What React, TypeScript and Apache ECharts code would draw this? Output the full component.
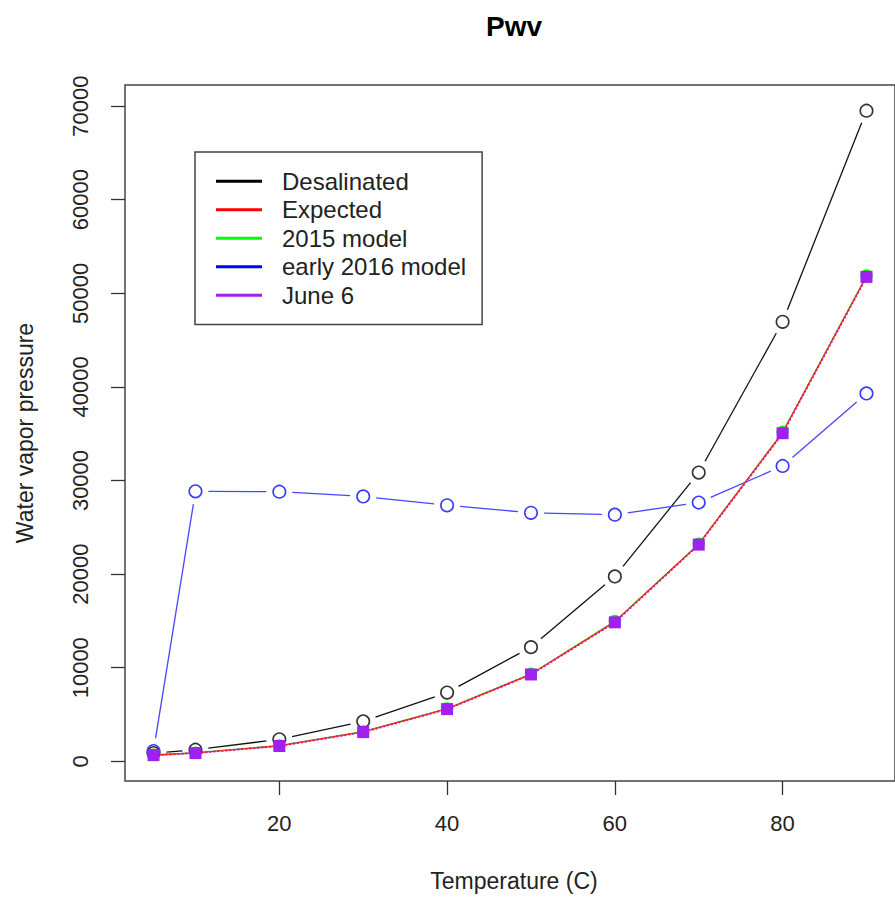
import React, { useEffect, useRef } from "react";
import * as echarts from "echarts";

const temps = [5, 10, 20, 30, 40, 50, 60, 70, 80, 90];
const desalinated = [880, 1240, 2350, 4270, 7350, 12200, 19750, 30850, 46950, 69500];
const expected = [650, 900, 1650, 3150, 5600, 9300, 14900, 23200, 35100, 51800];
const model2015 = [700, 920, 1700, 3200, 5650, 9350, 15000, 23250, 35200, 51900];
const early2016 = [1100, 28850, 28800, 28300, 27350, 26550, 26350, 27650, 31550, 39300];
const june6 = [660, 880, 1640, 3120, 5580, 9280, 14850, 23150, 35050, 51750];

const xTicks = [20, 40, 60, 80];
const yTicks = [0, 10000, 20000, 30000, 40000, 50000, 60000, 70000];

const FONT = "'Liberation Sans', Arial, Helvetica, sans-serif";

function pairs(vals: number[]) {
  return temps.map((t, i) => [t, vals[i]]);
}

function gappedSegments(name: string, vals: number[], color: string) {
  return {
    name,
    type: "custom",
    data: pairs(vals),
    encode: { x: 0, y: 1 },
    z: 2,
    renderItem: (params: any, api: any) => {
      const i = params.dataIndex;
      if (i === 0) return null;
      const p0 = api.coord([temps[i - 1], vals[i - 1]]);
      const p1 = api.coord([api.value(0), api.value(1)]);
      const dx = p1[0] - p0[0];
      const dy = p1[1] - p0[1];
      const len = Math.sqrt(dx * dx + dy * dy);
      const gap = 13;
      if (len <= 2 * gap) return null;
      const ux = dx / len;
      const uy = dy / len;
      return {
        type: "line",
        shape: {
          x1: p0[0] + ux * gap,
          y1: p0[1] + uy * gap,
          x2: p1[0] - ux * gap,
          y2: p1[1] - uy * gap,
        },
        style: { stroke: color, lineWidth: 1.3 },
      };
    },
  };
}

function hollowPoints(name: string, vals: number[], color: string) {
  return {
    name,
    type: "scatter",
    data: pairs(vals),
    symbol: "circle",
    symbolSize: 12.5,
    z: 3,
    itemStyle: { color: "rgba(0,0,0,0)", borderColor: color, borderWidth: 1.6, opacity: 1 },
  };
}

export default function App() {
  const ref = useRef<HTMLDivElement>(null);
  useEffect(() => {
    if (!ref.current) return;
    const chart = echarts.init(ref.current, null, { renderer: "svg" });
    chart.setOption({
      animation: false,
      backgroundColor: "#fff",
      textStyle: { fontFamily: FONT },
      grid: {
        left: 125,
        top: 85,
        right: -6,
        bottom: 116,
        show: true,
        borderColor: "#444",
        borderWidth: 1.5,
        backgroundColor: "transparent",
        containLabel: false,
      },
      xAxis: {
        type: "value",
        min: 1.6,
        max: 93.4,
        axisLine: { show: false, onZero: false },
        splitLine: { show: false },
        axisTick: {
          show: true,
          inside: false,
          customValues: xTicks,
          length: 14,
          lineStyle: { color: "#333", width: 1.3 },
        },
        axisLabel: {
          customValues: xTicks,
          margin: 31,
          fontSize: 22,
          color: "#222",
          fontFamily: FONT,
          formatter: (v: number) => String(v),
        },
      },
      yAxis: {
        type: "value",
        min: -2100,
        max: 72250,
        axisLine: { show: false, onZero: false },
        splitLine: { show: false },
        axisTick: {
          show: true,
          inside: false,
          customValues: yTicks,
          length: 14,
          lineStyle: { color: "#333", width: 1.3 },
        },
        axisLabel: {
          customValues: yTicks,
          rotate: 90,
          margin: 34,
          fontSize: 22,
          color: "#222",
          fontFamily: FONT,
          formatter: (v: number) => String(v),
        },
      },
      legend: {
        left: 195,
        top: 152,
        orient: "vertical",
        itemWidth: 46,
        itemHeight: 3,
        itemGap: 0,
        padding: [15, 16, 15, 21],
        backgroundColor: "#fff",
        borderColor: "#444",
        borderWidth: 1.5,
        selectedMode: false,
        textStyle: {
          fontSize: 24,
          color: "#222",
          lineHeight: 28.5,
          padding: [0, 0, 0, 15],
          fontFamily: FONT,
        },
        data: [
          { name: "Desalinated", icon: "rect", itemStyle: { color: "#000" } },
          { name: "Expected", icon: "rect", itemStyle: { color: "#ff0000" } },
          { name: "2015 model", icon: "rect", itemStyle: { color: "#00ff00" } },
          { name: "early 2016 model", icon: "rect", itemStyle: { color: "#0000ff" } },
          { name: "June 6", icon: "rect", itemStyle: { color: "#a020f0" } },
        ],
      },
      graphic: [
        {
          type: "text",
          x: 514,
          y: 26,
          style: {
            text: "Pwv",
            fontSize: 28,
            fontWeight: "bold",
            fontFamily: FONT,
            fill: "#000",
            align: "center",
            verticalAlign: "middle",
          },
        },
        {
          type: "text",
          x: 514,
          y: 881,
          style: {
            text: "Temperature (C)",
            fontSize: 23,
            fontFamily: FONT,
            fill: "#222",
            align: "center",
            verticalAlign: "middle",
          },
        },
        {
          type: "text",
          x: 25,
          y: 433,
          rotation: Math.PI / 2,
          style: {
            text: "Water vapor pressure",
            fontSize: 23,
            fontFamily: FONT,
            fill: "#222",
            align: "center",
            verticalAlign: "middle",
          },
        },
      ],
      series: [
        gappedSegments("Desalinated", desalinated, "#111"),
        hollowPoints("Desalinated", desalinated, "#333"),
        gappedSegments("early 2016 model", early2016, "#4646ff"),
        hollowPoints("early 2016 model", early2016, "#3a3aff"),
        {
          name: "2015 model",
          type: "line",
          data: pairs(model2015),
          symbol: "circle",
          symbolSize: 12.5,
          z: 2,
          lineStyle: { color: "#00ff00", width: 1 },
          itemStyle: { color: "#00ff00", opacity: 1 },
        },
        {
          name: "June 6",
          type: "line",
          data: pairs(june6),
          showSymbol: false,
          symbol: "none",
          z: 2,
          lineStyle: { color: "#a020f0", width: 2, type: [2, 2] },
        },
        {
          name: "Expected",
          type: "line",
          data: pairs(expected),
          symbol: "none",
          z: 2,
          lineStyle: { color: "#ff2020", width: 1.3 },
        },
        {
          name: "June 6",
          type: "scatter",
          data: pairs(june6),
          symbol: "rect",
          symbolSize: 12,
          z: 4,
          itemStyle: { color: "#a020f0", opacity: 1 },
        },
      ],
    });
    return () => chart.dispose();
  }, []);
  return (
    <div
      ref={ref}
      style={{ position: "fixed", left: 0, top: 0, width: 895, height: 897, background: "#fff" }}
    />
  );
}
